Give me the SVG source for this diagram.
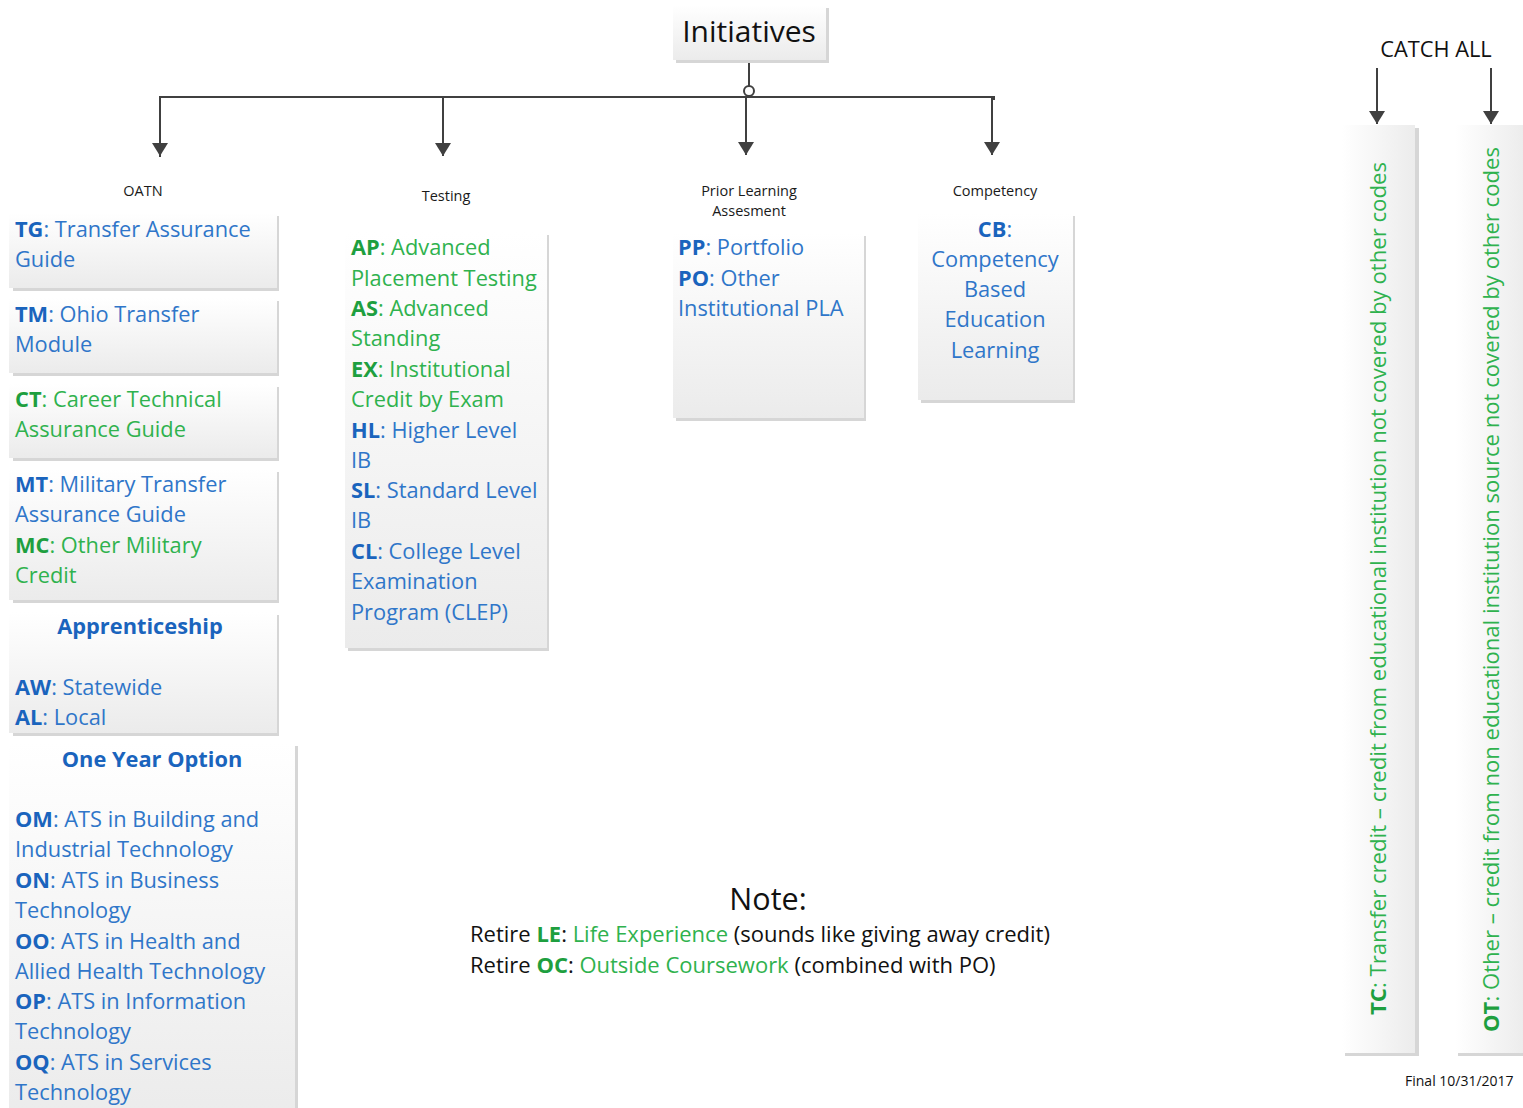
<svg xmlns="http://www.w3.org/2000/svg" width="1523" height="1108" viewBox="0 0 1523 1108">
<defs>
<linearGradient id="gv" x1="0" y1="0" x2="0" y2="1"><stop offset="0" stop-color="#ffffff"/><stop offset="1" stop-color="#ebebeb"/></linearGradient>
<linearGradient id="gh" x1="0" y1="0" x2="1" y2="0"><stop offset="0" stop-color="#ffffff"/><stop offset="1" stop-color="#ececec"/></linearGradient>
<marker id="ar" markerUnits="userSpaceOnUse" markerWidth="14" markerHeight="16" refX="13" refY="8" orient="auto"><path d="M0,0 L13,8 L0,16 z" fill="#404040"/></marker>
</defs>
<style>
text{font-family:"Open Sans",Lato,"Liberation Sans",sans-serif}
.sh{fill:#d6d6d6}
.bx{fill:url(#gv)}
.bxh{fill:url(#gh)}
.b{fill:#2f76c9;font-size:21.8px}
.g{fill:#2fb24e;font-size:21.8px}
.kb{fill:#1a64bd;font-weight:bold}
.kg{fill:#1e9f3f;font-weight:bold}
.hd{fill:#1a1a1a;font-size:14.5px;text-anchor:middle}
.c{text-anchor:middle}
.ln{stroke:#404040;stroke-width:2;fill:none}
.blk{fill:#111}
</style>
<rect width="1523" height="1108" fill="#ffffff"/>

<g id="connectors">
<line class="ln" x1="749" y1="60" x2="749" y2="86"/>
<circle cx="749" cy="91" r="5" fill="#fff" stroke="#404040" stroke-width="2"/>
<polyline class="ln" points="160,157 160,97 994,97 994,100"/>
<line class="ln" x1="160" y1="97" x2="160" y2="156" marker-end="url(#ar)"/>
<line class="ln" x1="443" y1="97" x2="443" y2="156" marker-end="url(#ar)"/>
<line class="ln" x1="746" y1="96" x2="746" y2="155" marker-end="url(#ar)"/>
<line class="ln" x1="992" y1="97" x2="992" y2="155" marker-end="url(#ar)"/>
<line class="ln" x1="1377" y1="68" x2="1377" y2="124" marker-end="url(#ar)"/>
<line class="ln" x1="1491" y1="68" x2="1491" y2="124" marker-end="url(#ar)"/>
</g>

<g id="initiatives">
<rect class="sh" x="676" y="8" width="153" height="55"/>
<rect class="bx" x="673" y="5" width="153" height="55"/>
<text x="749" y="42" class="c blk" font-size="30">Initiatives</text>
</g>

<g id="labels">
<text x="143" y="196" class="hd">OATN</text>
<text x="446" y="201" class="hd">Testing</text>
<text x="749" y="196" class="hd">Prior Learning</text>
<text x="749" y="216" class="hd">Assesment</text>
<text x="995" y="196" class="hd">Competency</text>
<text x="1436" y="57" class="c blk" font-size="21.8">CATCH ALL</text>
</g>

<g id="tg">
<rect class="sh" x="13" y="216" width="266" height="75"/>
<rect class="bx" x="9" y="213" width="268" height="75"/>
<text x="15" y="237" class="b"><tspan class="kb">TG</tspan>: Transfer Assurance</text>
<text x="15" y="267" class="b">Guide</text>
</g>

<g id="tm">
<rect class="sh" x="13" y="301" width="266" height="75"/>
<rect class="bx" x="9" y="298" width="268" height="75"/>
<text x="15" y="322" class="b"><tspan class="kb">TM</tspan>: Ohio Transfer</text>
<text x="15" y="352" class="b">Module</text>
</g>

<g id="ct">
<rect class="sh" x="13" y="387" width="266" height="74"/>
<rect class="bx" x="9" y="384" width="268" height="74"/>
<text x="15" y="407" class="g"><tspan class="kg">CT</tspan>: Career Technical</text>
<text x="15" y="437" class="g">Assurance Guide</text>
</g>

<g id="mt">
<rect class="sh" x="13" y="472" width="266" height="131"/>
<rect class="bx" x="9" y="469" width="268" height="131"/>
<text x="15" y="492" class="b"><tspan class="kb">MT</tspan>: Military Transfer</text>
<text x="15" y="522" class="b">Assurance Guide</text>
<text x="15" y="553" class="g"><tspan class="kg">MC</tspan>: Other Military</text>
<text x="15" y="583" class="g">Credit</text>
</g>

<g id="apprenticeship">
<rect class="sh" x="13" y="615" width="266" height="121"/>
<rect class="bx" x="9" y="612" width="268" height="121"/>
<text x="140" y="634" class="b kb c">Apprenticeship</text>
<text x="15" y="695" class="b"><tspan class="kb">AW</tspan>: Statewide</text>
<text x="15" y="725" class="b"><tspan class="kb">AL</tspan>: Local</text>
</g>

<g id="oneyear">
<rect class="sh" x="13" y="746" width="285" height="380"/>
<rect class="bx" x="9" y="743" width="286" height="380"/>
<text x="152" y="767" class="b kb c">One Year Option</text>
<text x="15" y="827" class="b"><tspan class="kb">OM</tspan>: ATS in Building and</text>
<text x="15" y="857" class="b">Industrial Technology</text>
<text x="15" y="888" class="b"><tspan class="kb">ON</tspan>: ATS in Business</text>
<text x="15" y="918" class="b">Technology</text>
<text x="15" y="949" class="b"><tspan class="kb">OO</tspan>: ATS in Health and</text>
<text x="15" y="979" class="b">Allied Health Technology</text>
<text x="15" y="1009" class="b"><tspan class="kb">OP</tspan>: ATS in Information</text>
<text x="15" y="1039" class="b">Technology</text>
<text x="15" y="1070" class="b"><tspan class="kb">OQ</tspan>: ATS in Services</text>
<text x="15" y="1100" class="b">Technology</text>
</g>

<g id="testing">
<rect class="sh" x="348" y="235" width="201" height="416"/>
<rect class="bx" x="345" y="232" width="202" height="416"/>
<text x="351" y="255" class="g"><tspan class="kg">AP</tspan>: Advanced</text>
<text x="351" y="286" class="g">Placement Testing</text>
<text x="351" y="316" class="g"><tspan class="kg">AS</tspan>: Advanced</text>
<text x="351" y="346" class="g">Standing</text>
<text x="351" y="377" class="g"><tspan class="kg">EX</tspan>: Institutional</text>
<text x="351" y="407" class="g">Credit by Exam</text>
<text x="351" y="438" class="b"><tspan class="kb">HL</tspan>: Higher Level</text>
<text x="351" y="468" class="b">IB</text>
<text x="351" y="498" class="b"><tspan class="kb">SL</tspan>: Standard Level</text>
<text x="351" y="528" class="b">IB</text>
<text x="351" y="559" class="b"><tspan class="kb">CL</tspan>: College Level</text>
<text x="351" y="589" class="b">Examination</text>
<text x="351" y="620" class="b">Program (CLEP)</text>
</g>

<g id="pla">
<rect class="sh" x="676" y="236" width="190" height="185"/>
<rect class="bx" x="673" y="233" width="191" height="185"/>
<text x="678" y="255" class="b"><tspan class="kb">PP</tspan>: Portfolio</text>
<text x="678" y="286" class="b"><tspan class="kb">PO</tspan>: Other</text>
<text x="678" y="316" class="b">Institutional PLA</text>
</g>

<g id="competency">
<rect class="sh" x="921" y="216" width="154" height="187"/>
<rect class="bx" x="918" y="213" width="155" height="187"/>
<text x="995" y="237" class="b c"><tspan class="kb">CB</tspan>:</text>
<text x="995" y="267" class="b c">Competency</text>
<text x="995" y="297" class="b c">Based</text>
<text x="995" y="327" class="b c">Education</text>
<text x="995" y="358" class="b c">Learning</text>
</g>

<g id="tc">
<rect class="sh" x="1345" y="128" width="74" height="928"/>
<rect class="bxh" x="1342" y="125" width="73" height="928"/>
<text transform="translate(1386,1015) rotate(-90)" class="g" font-size="21.5" textLength="853" lengthAdjust="spacingAndGlyphs"><tspan class="kg">TC</tspan>: Transfer credit – credit from educational institution not covered by other codes</text>
</g>

<g id="ot">
<rect class="sh" x="1458" y="128" width="70" height="928"/>
<rect class="bxh" x="1455" y="125" width="70" height="928"/>
<text transform="translate(1499,1032) rotate(-90)" class="g" font-size="21.5" textLength="885" lengthAdjust="spacingAndGlyphs"><tspan class="kg">OT</tspan>: Other – credit from non educational institution source not covered by other codes</text>
</g>

<g id="note">
<text x="768" y="910" class="c blk" font-size="30.5">Note:</text>
<text x="470" y="942" class="blk" font-size="22">Retire <tspan class="kg">LE</tspan>: <tspan fill="#2fb24e">Life Experience</tspan> (sounds like giving away credit)</text>
<text x="470" y="973" class="blk" font-size="22">Retire <tspan class="kg">OC</tspan>: <tspan fill="#2fb24e">Outside Coursework</tspan> (combined with PO)</text>
</g>

<g id="final">
<text x="1405" y="1086" class="blk" font-size="14">Final 10/31/2017</text>
</g>
</svg>
